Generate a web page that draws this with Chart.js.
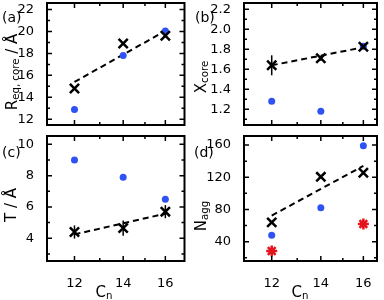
<!DOCTYPE html>
<html><head><meta charset="utf-8">
<script src="https://cdn.jsdelivr.net/npm/chart.js@4.4.0/dist/chart.umd.min.js"></script>
<style>
html,body{margin:0;padding:0;background:#fff;overflow:hidden;width:384px;height:300px;}
#wrap{position:relative;width:384px;height:300px;overflow:hidden;}
canvas.c{position:absolute;left:-20px;top:-20px;}
.lbl{position:absolute;font-family:"DejaVu Sans",sans-serif;color:#000;white-space:nowrap;line-height:1;}
.rot{transform:translate(-50%,-50%) rotate(-90deg);}
.ctr{transform:translate(-50%,-50%);}
sub{font-size:68%;vertical-align:-0.25em;line-height:0;}
</style></head><body><div id="wrap">
<canvas class="c" id="ca" width="424" height="340"></canvas>
<canvas class="c" id="cb" width="424" height="340"></canvas>
<canvas class="c" id="cc" width="424" height="340"></canvas>
<canvas class="c" id="cd" width="424" height="340"></canvas>
<div class="lbl" style="left:2px;top:10px;font-size:14px;">(a)</div>
<div class="lbl" style="left:195px;top:10px;font-size:14px;">(b)</div>
<div class="lbl" style="left:2px;top:145px;font-size:14px;">(c)</div>
<div class="lbl" style="left:194px;top:145px;font-size:14px;">(d)</div>
<div class="lbl rot" style="left:11.5px;top:72px;font-size:15px;">R<sub>eq, core</sub> / Å</div>
<div class="lbl rot" style="left:200.5px;top:77px;font-size:15px;">X<sub>core</sub></div>
<div class="lbl rot" style="left:10.5px;top:205px;font-size:15px;">T / Å</div>
<div class="lbl rot" style="left:200.5px;top:216px;font-size:15px;">N<sub>agg</sub></div>
<div class="lbl ctr" style="left:104px;top:292px;font-size:15px;">C<sub>n</sub></div>
<div class="lbl ctr" style="left:300px;top:292px;font-size:15px;">C<sub>n</sub></div>
</div>
<script>
// ---------- data ----------
const carbonNumbers = [12, 14, 16];
const fitX = [12, 16];
const xTicks = [12, 13, 14, 15, 16];
const xLabels = [12, 14, 16];

// (a) R_eq,core
const reqCoreBlue  = [12.9, 17.8, 20.05];
const reqCoreBlack = [14.8, 18.9, 19.6];
const reqCoreFit   = [15.4, 20.05];
const aYTicks  = [12, 13, 14, 15, 16, 17, 18, 19, 20, 21, 22];
const aYLabels = [12, 14, 16, 18, 20, 22];

// (b) X_core
const xCoreBlue  = [1.28, 1.18, 1.83];
const xCoreBlack = [1.64, 1.71, 1.825];
const xCoreErr   = [0.10, 0.025, 0.02];
const xCoreFit   = [1.64, 1.82];
const bYTicks  = [1.1, 1.2, 1.3, 1.4, 1.5, 1.6, 1.7, 1.8, 1.9, 2.0, 2.1, 2.2];
const bYLabels = [1.2, 1.4, 1.6, 1.8, 2.0, 2.2];

// (c) T
const tBlue  = [9.0, 7.9, 6.5];
const tBlack = [4.4, 4.65, 5.7];
const tErr   = [0.42, 0.49, 0.42];
const tFit   = [4.25, 5.57];
const cYTicks  = [3, 4, 5, 6, 7, 8, 9, 10];
const cYLabels = [4, 6, 8, 10];

// (d) N_agg
const naggBlue  = [48, 82, 159];
const naggBlack = [64, 120.5, 125.5];
const naggRed   = [28.5, null, 62];
const naggFit   = [72.5, 134];
const dYTicks  = [20, 40, 60, 80, 100, 120, 140, 160];
const dYLabels = [40, 80, 120, 160];

// ---------- helpers ----------
const BLUE = '#2f52f5', RED = '#e3141c', BLACK = '#000';
const FONT = {family: '"DejaVu Sans", sans-serif', size: 13};
const pts = (xs, ys) => xs.map((x, i) => ({x: x, y: ys[i]})).filter(p => p.y !== null && p.y !== undefined);

function framePlugin(err) {
  return {
    id: 'frame',
    afterDatasetsDraw(chart) {
      const ctx = chart.ctx, a = chart.chartArea;
      const xs = chart.scales.x, ys = chart.scales.y;
      ctx.save();
      ctx.strokeStyle = '#000';
      if (err) {
        ctx.lineWidth = 1.5;
        err.x.forEach((xv, i) => {
          const px = xs.getPixelForValue(xv);
          ctx.beginPath();
          ctx.moveTo(px, ys.getPixelForValue(err.y[i] - err.e[i]));
          ctx.lineTo(px, ys.getPixelForValue(err.y[i] + err.e[i]));
          ctx.stroke();
        });
      }
      ctx.lineWidth = 1.5;
      xs.ticks.forEach(t => {
        const px = xs.getPixelForValue(t.value);
        const len = xLabels.includes(t.value) ? 5 : 3;
        ctx.beginPath();
        ctx.moveTo(px, a.bottom); ctx.lineTo(px, a.bottom - len);
        ctx.moveTo(px, a.top); ctx.lineTo(px, a.top + len);
        ctx.stroke();
      });
      ys.ticks.forEach(t => {
        const py = ys.getPixelForValue(t.value);
        const len = t.label !== '' ? 5 : 3;
        ctx.beginPath();
        ctx.moveTo(a.left, py); ctx.lineTo(a.left + len, py);
        ctx.moveTo(a.right, py); ctx.lineTo(a.right - len, py);
        ctx.stroke();
      });
      ctx.lineWidth = 2;
      ctx.strokeRect(a.left, a.top, a.right - a.left, a.bottom - a.top);
      ctx.restore();
    }
  };
}

function makeChart(id, rect, xr, yr, yTicks, yLabels, yFmt, showX, datasets, err) {
  const YW = 40, XH = showX ? 26 : 0;
  const padding = {
    left: rect.l + 20 - YW,
    top: rect.t + 20,
    right: 424 - (rect.r + 20),
    bottom: 340 - (rect.b + 20) - XH
  };
  return new Chart(document.getElementById(id), {
    type: 'scatter',
    data: {datasets: datasets},
    options: {
      responsive: false, animation: false, devicePixelRatio: 1,
      layout: {padding: padding},
      plugins: {legend: {display: false}, tooltip: {enabled: false}},
      scales: {
        x: {
          type: 'logarithmic', min: xr[0], max: xr[1], bounds: 'data',
          grid: {display: false}, border: {display: false},
          afterBuildTicks: s => { s.ticks = xTicks.map(v => ({value: v})); },
          afterFit: s => { s.height = XH; },
          ticks: {display: showX, autoSkip: false, maxRotation: 0, padding: 7, color: '#000', font: FONT,
            callback: v => xLabels.includes(v) ? String(v) : ''}
        },
        y: {
          type: 'linear', min: yr[0], max: yr[1], bounds: 'data',
          grid: {display: false}, border: {display: false},
          afterBuildTicks: s => { s.ticks = yTicks.map(v => ({value: v})); },
          afterFit: s => { s.width = YW; },
          ticks: {autoSkip: false, padding: 5, color: '#000', font: FONT,
            callback: v => yLabels.includes(v) ? yFmt(v) : ''}
        }
      }
    },
    plugins: [framePlugin(err)]
  });
}

function sets(black, blue, fit, red) {
  const d = [
    {data: pts(carbonNumbers, black), pointStyle: 'crossRot', pointRadius: 6.5, borderColor: BLACK, borderWidth: 2.5, backgroundColor: BLACK}
  ];
  if (red) d.push({data: pts(carbonNumbers, red), pointStyle: 'star', pointRadius: 5.5, borderColor: RED, borderWidth: 2.5, backgroundColor: RED});
  d.push({data: pts(carbonNumbers, blue), pointStyle: 'circle', pointRadius: 3.5, borderWidth: 0, backgroundColor: BLUE});
  d.push({data: pts(fitX, fit), showLine: true, pointRadius: 0, borderColor: BLACK, borderWidth: 2, borderDash: [6, 4], fill: false});
  return d;
}

const int = v => String(v);
const dec1 = v => v.toFixed(1);

makeChart('ca', {l: 47, t: 3, r: 184.5, b: 125}, [11, 17], [11.48, 22.59], aYTicks, aYLabels, int, false,
  sets(reqCoreBlack, reqCoreBlue, reqCoreFit), null);
makeChart('cb', {l: 244, t: 3, r: 377, b: 125}, [11, 16.7], [1.043, 2.263], bYTicks, bYLabels, dec1, false,
  sets(xCoreBlack, xCoreBlue, xCoreFit), {x: carbonNumbers, y: xCoreBlack, e: xCoreErr});
makeChart('cc', {l: 47, t: 136, r: 184.5, b: 261}, [11, 17], [2.55, 10.53], cYTicks, cYLabels, int, true,
  sets(tBlack, tBlue, tFit), {x: carbonNumbers, y: tBlack, e: tErr});
makeChart('cd', {l: 244, t: 136, r: 377, b: 261}, [11, 16.7], [16.05, 171.2], dYTicks, dYLabels, int, true,
  sets(naggBlack, naggBlue, naggFit, naggRed), null);
</script>
</body></html>
